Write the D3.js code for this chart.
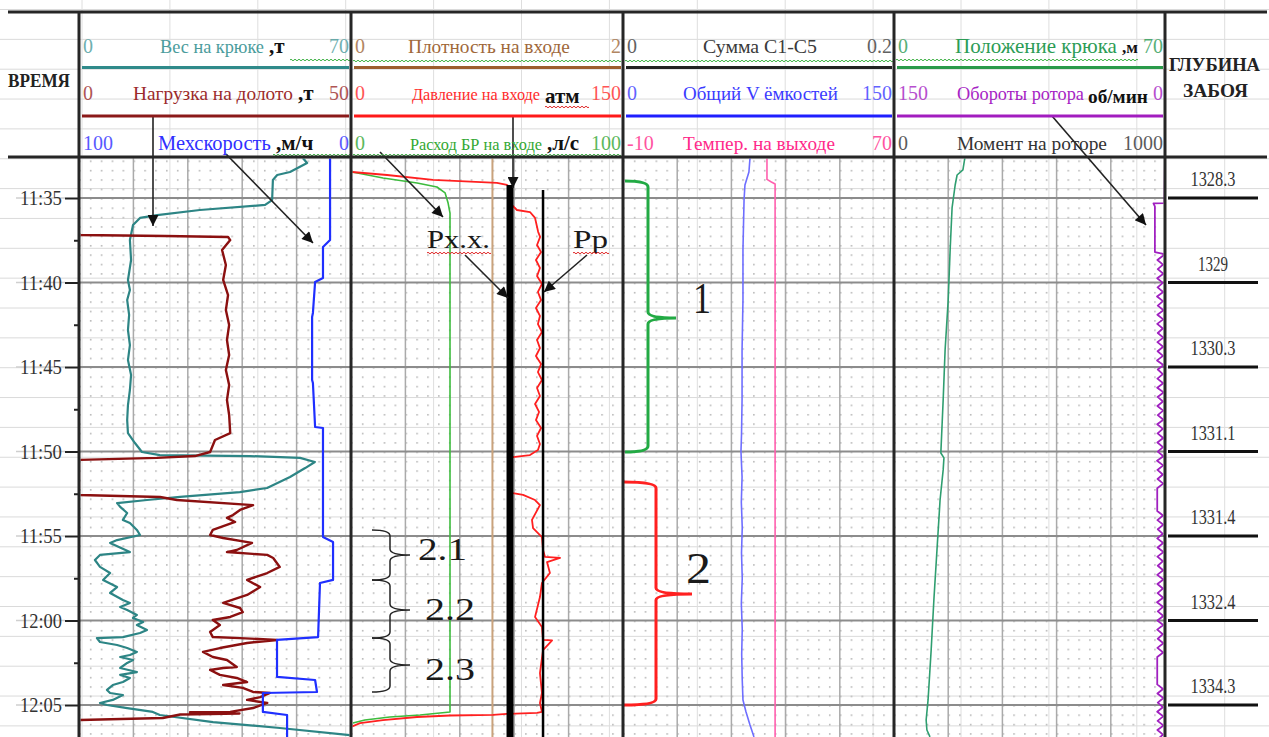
<!DOCTYPE html>
<html>
<head>
<meta charset="utf-8">
<script src="https://cdn.jsdelivr.net/npm/d3@7"></script>
<style>
  body { margin: 0; background: #fff; }
  svg { display: block; }
  text { font-family: "Liberation Serif", "Times New Roman", serif; }
</style>
</head>
<body>
<div id="chart"></div>
<script>
// время в минутах после 11:00, значения в единицах своей шкалы
const timeLabels = ["11:35", "11:40", "11:45", "11:50", "11:55", "12:00", "12:05"];
const depthLabels = ["1328.3", "1329", "1330.3", "1331.1", "1331.4", "1332.4", "1334.3"];

const curveNames = [
  ["Вес на крюке", "Нагрузка на долото", "Мехскорость"],
  ["Плотность на входе", "Давление на входе", "Расход БР на входе"],
  ["Сумма С1-С5", "Общий V ёмкостей", "Темпер. на выходе"],
  ["Положение крюка", "Обороты ротора", "Момент на роторе"]
];
const curveUnits = [[",т", ",т", ",м/ч"], ["", "атм", ",л/с"], ["", "", ""], [",м", "об/мин", ""]];
const curveRanges = [
  [[0, 70], [0, 50], [100, 0]],
  [[0, 2], [0, 150], [0, 100]],
  [[0, 0.2], [0, 150], [-10, 70]],
  [[0, 70], [150, 0], [0, 1000]]
];

const hookWeight = [[32.63,57.6],[32.93,58.7],[33.46,54.3],[33.64,51.0],[33.93,49.9],[35.12,49.7],[35.41,47.9],[35.71,31.1],[36.01,20.1],[36.18,15.7],[36.6,13.9],[37.49,13.1],[38.67,13.4],[39.85,12.6],[40.44,13.1],[41.04,12.4],[41.92,12.9],[42.81,12.6],[43.7,13.1],[44.59,12.6],[45.47,13.4],[46.36,13.1],[47.25,12.6],[48.14,12.4],[48.91,12.6],[49.5,14.4],[50.03,16.2],[50.21,20.8],[50.27,44.0],[50.38,56.9],[50.62,60.7],[50.98,58.2],[51.51,54.3],[52.16,48.4],[52.4,41.4],[52.69,26.0],[52.87,17.5],[53.05,9.8],[53.28,10.6],[53.64,12.4],[54.05,11.3],[54.23,13.1],[54.64,14.9],[54.94,15.7],[55.24,9.8],[55.41,8.0],[55.95,13.1],[56.12,5.4],[56.42,4.1],[56.83,5.4],[57.19,8.0],[57.6,6.2],[58.02,9.8],[58.37,8.0],[58.79,11.3],[58.96,13.1],[59.2,10.6],[59.38,12.4],[59.67,14.9],[59.85,13.9],[60.09,16.5],[60.27,14.9],[60.56,17.5],[60.74,15.7],[60.98,11.3],[61.04,4.6],[61.27,5.4],[61.45,9.8],[61.63,12.4],[61.86,14.9],[62.04,13.1],[62.16,10.6],[62.34,13.9],[62.51,12.4],[62.81,10.6],[63.05,14.9],[63.22,10.6],[63.4,13.1],[63.64,11.3],[63.82,8.7],[64.11,7.2],[64.29,8.0],[64.41,11.3],[64.7,8.7],[64.88,5.4],[65.0,7.2],[65.18,12.4],[65.41,19.0],[65.59,20.8],[66.01,34.5],[66.36,51.7],[66.78,69.7],[66.9,72]];

const bitLoad = [[37.1,0],[37.19,0.2],[37.25,15.8],[37.31,27.4],[37.49,27.8],[38.08,26.3],[38.96,27.0],[39.85,26.5],[40.74,27.4],[41.63,27.0],[42.51,27.6],[43.4,27.2],[44.29,27.6],[45.18,27.0],[46.07,27.6],[46.95,27.2],[47.84,27.6],[48.91,27.8],[49.32,25.0],[50.03,24.1],[50.27,21.3],[50.38,14.3],[50.5,0],[52.57,0],[52.69,14.9],[52.87,18.0],[53.17,32.0],[53.46,29.6],[53.76,28.3],[53.93,27.2],[54.17,28.7],[54.64,24.6],[54.94,24.1],[55.12,26.5],[55.41,31.8],[55.83,29.0],[55.95,27.2],[56.12,34.6],[56.3,35.7],[56.83,36.9],[57.19,34.6],[57.6,30.9],[58.02,33.3],[58.49,30.9],[58.96,26.5],[59.26,29.6],[59.5,30.1],[59.79,27.8],[59.97,24.6],[60.27,25.9],[60.68,24.1],[60.98,24.6],[61.04,29.6],[61.15,36.4],[61.33,30.9],[61.63,25.9],[61.86,22.8],[62.16,24.6],[62.34,27.2],[62.75,29.0],[62.81,26.5],[62.93,24.1],[63.22,25.9],[63.4,29.0],[63.64,30.9],[63.82,26.5],[63.99,30.1],[64.23,32.0],[64.29,35.1],[64.53,33.3],[64.7,30.9],[64.88,34.6],[65.18,32.0],[65.41,27.8],[65.43,20.4],[65.5,29.5],[65.56,18.6],[65.77,15.4],[65.89,0],[66.9,0]];

const rop = [[32.6,7.7],[37.49,7.7],[37.9,10.3],[39.73,10.3],[39.97,13.2],[41.8,14.0],[42.04,14.3],[45.77,14.3],[45.95,14.0],[48.55,13.2],[48.61,10.3],[55.06,10.3],[55.36,6.6],[57.6,6.6],[57.78,11.4],[60.98,12.1],[61.15,27.2],[63.34,27.2],[63.52,13.2],[64.23,12.5],[64.29,32.4],[65.41,32.4],[65.59,23.5],[66.9,23.5]];

const density = [[32.6,1.04],[66.9,1.04]];

const pressure = [[33.46,0.3],[33.64,19.9],[33.93,45.2],[34.11,80.5],[34.23,86.0],[34.35,87.7],[35.3,87.7],[35.71,91.5],[35.83,98.7],[36.18,101.5],[37.0,103.2],[37.3,104.3],[37.78,102.6],[38.2,104.8],[38.67,102.0],[39.14,104.2],[39.62,102.6],[40.09,105.3],[40.56,103.1],[41.04,104.8],[41.51,102.0],[41.98,104.2],[42.46,103.1],[42.93,105.3],[43.4,102.6],[43.88,104.2],[44.35,102.0],[44.82,104.8],[45.3,103.1],[45.77,105.3],[46.24,102.6],[46.72,104.2],[47.19,101.5],[47.66,103.7],[48.14,102.0],[48.61,104.8],[49.08,102.6],[49.56,104.2],[49.91,103.1],[50.21,98.7],[50.33,89.3],[50.4,87.7],[52.4,87.7],[52.46,89.3],[52.57,94.9],[52.87,101.5],[53.17,104.2],[54.05,99.8],[54.53,100.4],[55.06,105.3],[55.83,105.9],[56.24,107.0],[56.3,115.3],[56.54,108.1],[57.19,109.7],[57.78,105.3],[58.61,104.2],[59.79,101.5],[60.38,105.3],[61.15,105.9],[61.18,110.9],[61.75,105.9],[63.11,104.2],[64.29,105.3],[64.88,104.2],[65.41,105.3],[65.47,102.6],[65.53,86.0],[65.59,78.3],[65.62,54.6],[65.71,36.4],[65.89,17.6],[66.07,5.0],[66.3,0]];

const flowIn = [[33.46,0.4],[33.82,11.8],[34.11,24.3],[34.35,31.6],[34.7,34.6],[35.3,35.7],[35.89,36.4],[65.41,36.4],[65.47,32.7],[65.59,25.4],[65.71,14.3],[65.89,5.1],[66.07,0.7]];

const pitVolume = [[32.63,70.3],[33.46,69.7],[34.23,67.5],[35.12,67.0],[38.08,66.4],[41.04,66.4],[43.99,65.9],[46.95,65.9],[49.0,65.6],[50.0,65.3],[51.5,65.9],[53.0,65.5],[54.5,66.0],[56.0,65.6],[57.5,66.0],[59.0,65.5],[60.5,66.0],[62.0,65.7],[63.5,66.0],[64.7,66.4],[65.41,68.1],[66.18,70.3],[66.89,72.5]];

const tempOut = [[32.63,32.5],[33.9,32.5],[34.05,33.8],[34.17,34.9],[66.9,34.9]];

const hookPos = [[32.63,18.3],[33.34,17.8],[33.64,16.3],[34.23,15.8],[35.59,15.0],[38.08,14.5],[41.04,14.0],[43.99,13.2],[46.95,12.7],[50.09,12.1],[50.38,12.9],[51.09,12.7],[52.87,11.9],[55.83,11.1],[58.79,10.3],[61.75,9.6],[64.7,8.8],[65.89,8.3],[66.48,8.5],[66.89,9.3]];

const rotorHead = [[32.6,0],[35.3,0.5],[35.32,6.4],[35.5,5.6],[38.2,5.6],[38.3,1.0]];
const rotorStart = 38.4, rotorStep = 0.27;
const rotorRpm = [1.0,4.2,1.1,4.0,0.9,4.3,1.2,4.1,1.0,4.4,
  1.1,4.0,0.8,4.2,1.0,4.3,1.2,4.0,0.9,4.2,
  1.0,4.1,1.1,4.4,0.9,4.0,1.2,4.2,1.0,4.3,
  0.8,4.1,1.1,4.2,1.0,4.0,0.9,4.3,1.2,4.1,
  1.0,4.2,1.1,4.0,0.9,4.4,1.0,4.2,1.2,4.1,
  1.0,4.3,4.3,4.3,4.3,4.3,4.3,
  1.1,4.2,0.9,4.0,1.2,4.3,1.0,4.1,0.8,4.2,1.1,
  4.0,1.0,4.3,0.9,4.2,1.2,4.1,1.0,4.4,1.1,
  4.0,0.9,4.2,1.0,4.3,1.2,4.0,0.9,4.2,1.0,
  4.3,4.3,4.3,4.3,4.3,4.3,4.3,
  1.1,4.2,0.9,4.0,1.2,4.3,1.0,4.1,0.8,4.2,1.1,4.0];

const pIdle = 87.7;   // Рх.х., атм
const pWork = 105.9;  // Рр, атм

// ---------------------------------------------------------------------
const W = 1269, H = 737;
const edges = [79, 351, 623, 894, 1165];
const topY = 12, headBottom = 157;
const rowY = [53, 100, 150];
const scaleLineY = [67.5, 116];

const textColors = [["#4b9c9c", "#9c2b2b", "#3030ff"], ["#a0683a", "#ff2b2b", "#33a833"],
                    ["#3a3a3a", "#3b3bff", "#ff2a8a"], ["#2c9c55", "#a623c4", "#333"]];
const lineColors = [["#2f8a8a", "#8b1a1a"], ["#9c5e2e", "#ff1a1a"], ["#222", "#1f1fff"], ["#2a9a4a", "#a21cbf"]];
const labelX = [[160, 133, 158], [408, 412, 410], [703, 683, 683], [955, 957, 957]];
const labelW = [[104, 160, 113], [162, 128, 132], [114, 155, 152], [162, 127, 150]];
const unitX = [[269, 298, 276], [0, 545, 547], [0, 0, 0], [1122, 1088, 0]];
const unitW = [[18, 19, 46], [0, 44, 36], [0, 0, 0], [16, 60, 0]];

const parseHM = d3.timeParse("%H:%M");
const base = parseHM("11:00");
const at = m => new Date(base.getTime() + m * 60000);
const majorTimes = timeLabels.map(parseHM);
const y = d3.scaleTime().domain([majorTimes[0], majorTimes[majorTimes.length - 1]]).range([198, 705]);
const xs = (track, row) => d3.scaleLinear().domain(curveRanges[track][row]).range([edges[track], edges[track + 1]]);

const svg = d3.select('#chart').append('svg').attr('width', W).attr('height', H);
const defs = svg.append('defs');

function txt(g, x, yy, s, o = {}) {
  const size = o.size || 20;
  const t = g.append('text').attr('x', x).attr('y', yy).text(s)
    .attr('font-size', size)
    .attr('fill', o.fill || '#222')
    .attr('text-anchor', o.anchor || 'start');
  if (o.bold) t.attr('font-weight', 'bold');
  if (o.fit) {
    // уменьшаем шрифт, чтобы текст уложился в ширину
    const nat = t.node().getComputedTextLength();
    if (nat > o.fit) t.attr('font-size', (size * o.fit / nat).toFixed(2));
  }
  if (o.len) t.attr('textLength', o.len).attr('lengthAdjust', 'spacingAndGlyphs');
  if (o.opacity) t.attr('opacity', o.opacity);
  return t;
}

function wavy(g, x0, x1, yy, color) {
  let d = `M${x0},${yy}`, s = 1;
  for (let x = x0; x < x1; x += 2) {
    d += ` Q${x + 1},${yy - 1.6 * s} ${x + 2},${yy}`;
    s = -s;
  }
  g.append('path').attr('d', d).attr('fill', 'none').attr('stroke', color).attr('stroke-width', 1);
}

// фоновая сетка листа
const bg = svg.append('g');
for (let k = 0; k < 25; k++) {
  bg.append('line').attr('x1', 0).attr('x2', W).attr('y1', 9.5 + k * 29.85).attr('y2', 9.5 + k * 29.85)
    .attr('stroke', '#dadada').attr('stroke-width', 1);
}
for (let k = 0; k < 14; k++) {
  bg.append('line').attr('x1', 82 + k * 87.9).attr('x2', 82 + k * 87.9).attr('y1', 0).attr('y2', H)
    .attr('stroke', '#dedede').attr('stroke-width', 1);
}

// точки и сетка треков
const fiveMin = y(majorTimes[1]) - y(majorTimes[0]);
edges.slice(0, 4).forEach((x0, i) => {
  const tw = edges[i + 1] - x0;
  const p = defs.append('pattern').attr('id', 'dots' + i).attr('patternUnits', 'userSpaceOnUse')
    .attr('x', x0).attr('y', y(majorTimes[0]))
    .attr('width', tw / 25).attr('height', fiveMin / 9);
  p.append('rect').attr('x', 0).attr('y', 0).attr('width', 1.6).attr('height', 1.6).attr('fill', '#b8b8b8');
  svg.append('rect').attr('x', x0).attr('y', headBottom).attr('width', tw).attr('height', H - headBottom)
    .attr('fill', `url(#dots${i})`);
  for (let k = 1; k < 5; k++) {
    svg.append('line').attr('x1', x0 + k * tw / 5).attr('x2', x0 + k * tw / 5)
      .attr('y1', headBottom).attr('y2', H).attr('stroke', '#aaa').attr('stroke-width', 1.5);
  }
  defs.append('clipPath').attr('id', 'clip' + i).append('rect')
    .attr('x', x0 + 1.5).attr('y', headBottom + 1.5).attr('width', tw - 3).attr('height', H - headBottom);
});

svg.append('g').selectAll('line').data(majorTimes).join('line')
  .attr('x1', edges[0]).attr('x2', edges[4]).attr('y1', d => y(d)).attr('y2', d => y(d))
  .attr('stroke', '#8c8c8c').attr('stroke-width', 2);
svg.append('g').selectAll('line').data(majorTimes).join('line')
  .attr('x1', 16).attr('x2', 65).attr('y1', d => y(d)).attr('y2', d => y(d))
  .attr('stroke', '#cfcfcf').attr('stroke-width', 1.5);

// кривые
const line = xsc => d3.line().x(d => xsc(d[1])).y(d => y(at(d[0])));
const rotorData = rotorHead.concat(rotorRpm.map((v, i) => [rotorStart + i * rotorStep, v]));
const curves = [
  { data: density, t: 1, r: 0, color: '#c9a27c', w: 2 },
  { data: flowIn, t: 1, r: 2, color: '#3dbb3d', w: 1.6 },
  { data: pressure, t: 1, r: 1, color: '#ff2020', w: 1.8 },
  { data: hookWeight, t: 0, r: 0, color: '#2d8585', w: 2.2 },
  { data: bitLoad, t: 0, r: 1, color: '#8b1010', w: 2.4 },
  { data: rop, t: 0, r: 2, color: '#1f2fff', w: 2.2 },
  { data: pitVolume, t: 2, r: 1, color: '#6e6eff', w: 1.6 },
  { data: tempOut, t: 2, r: 2, color: '#ff5fae', w: 1.6 },
  { data: hookPos, t: 3, r: 0, color: '#2f9e70', w: 1.6 },
  { data: rotorData, t: 3, r: 1, color: '#a020c0', w: 1.8 }
];
curves.forEach(c => {
  svg.append('path').datum(c.data).attr('clip-path', `url(#clip${c.t})`)
    .attr('d', line(xs(c.t, c.r))).attr('fill', 'none')
    .attr('stroke', c.color).attr('stroke-width', c.w).attr('stroke-linejoin', 'round');
});

// уровни давления Рх.х. и Рр
const xp = xs(1, 1);
svg.append('line').attr('x1', xp(pIdle)).attr('x2', xp(pIdle)).attr('y1', y(at(34.23))).attr('y2', H)
  .attr('stroke', '#000').attr('stroke-width', 7);
svg.append('line').attr('x1', xp(pWork)).attr('x2', xp(pWork)).attr('y1', y(at(34.53))).attr('y2', H)
  .attr('stroke', '#000').attr('stroke-width', 2.5);

// фигурные скобки
function brace(xl, xm, xt, t0, tm, t1, color, w) {
  const a = y(at(t0)), m = y(at(tm)), b = y(at(t1)), r = 6;
  const d = `M${xl},${a} Q${xm},${a} ${xm},${a + r} L${xm},${m - r} Q${xm},${m} ${xt},${m}` +
            ` Q${xm},${m} ${xm},${m + r} L${xm},${b - r} Q${xm},${b} ${xl},${b}`;
  svg.append('path').attr('d', d).attr('fill', 'none').attr('stroke', color).attr('stroke-width', w);
}
brace(625, 648, 676, 33.99, 42.1, 50.03, '#22aa44', 3);
brace(624, 656, 692, 51.8, 58.43, 65.0, '#ff2020', 3);
brace(372, 390, 410, 54.64, 56.12, 57.6, '#222', 1.5);
brace(372, 390, 410, 57.6, 59.38, 61.04, '#222', 1.5);
brace(372, 390, 410, 61.04, 62.63, 64.23, '#222', 1.5);

const ann = svg.append('g');
txt(ann, 693, y(at(41.8)), '1', { size: 44, len: 18, fill: '#1a1a1a' });
txt(ann, 686, y(at(57.78)), '2', { size: 44, len: 25, fill: '#1a1a1a' });
txt(ann, 418, y(at(56.42)), '2.1', { size: 32, len: 49, fill: '#1a1a1a' });
txt(ann, 425, y(at(59.97)), '2.2', { size: 32, len: 50, fill: '#1a1a1a' });
txt(ann, 425, y(at(63.52)), '2.3', { size: 32, len: 50, fill: '#1a1a1a' });
txt(ann, 427, y(at(37.96)), 'Рх.х.', { size: 25, len: 63, fill: '#1a1a1a' });
txt(ann, 573, y(at(37.96)), 'Рр', { size: 25, len: 35, fill: '#1a1a1a' });
wavy(ann, 427, 490, y(at(37.96)) + 5, '#e02828');
wavy(ann, 573, 608, y(at(37.96)) + 5, '#e02828');

// стрелки
defs.append('marker').attr('id', 'arrow').attr('viewBox', '0 0 10 10').attr('refX', 10).attr('refY', 5)
  .attr('markerWidth', 14).attr('markerHeight', 11).attr('markerUnits', 'userSpaceOnUse').attr('orient', 'auto')
  .append('path').attr('d', 'M0,0 L10,5 L0,10 z').attr('fill', '#111');
[[153, 116, 153, 226], [226, 154, 313, 243], [380, 152, 443, 217], [513, 116, 513, 188],
 [465, 255, 508, 298], [587, 255, 544, 292], [1052, 116, 1146, 225]].forEach(a => {
  ann.append('line').attr('x1', a[0]).attr('y1', a[1]).attr('x2', a[2]).attr('y2', a[3])
    .attr('stroke', '#222').attr('stroke-width', 1.6).attr('marker-end', 'url(#arrow)');
});

// ось времени
const axis = svg.append('g').attr('transform', `translate(${edges[0]},0)`)
  .call(d3.axisLeft(y).tickValues(majorTimes).tickSize(14).tickPadding(3).tickFormat(d3.timeFormat('%H:%M')));
axis.select('.domain').remove();
axis.selectAll('line').attr('stroke', '#222').attr('stroke-width', 2);
axis.selectAll('text').attr('font-size', 21).attr('fill', '#333')
  .attr('font-family', '"Liberation Serif", serif')
  .attr('textLength', 42).attr('lengthAdjust', 'spacingAndGlyphs');
const minorTimes = d3.range(0, 6).map(i => at(37.5 + i * 5));
const minor = svg.append('g').attr('transform', `translate(${edges[0]},0)`)
  .call(d3.axisLeft(y).tickValues(minorTimes).tickSize(5).tickFormat(''));
minor.select('.domain').remove();
minor.selectAll('line').attr('stroke', '#222').attr('stroke-width', 2);

// колонка глубины
const dep = svg.append('g');
dep.selectAll('line').data(majorTimes).join('line')
  .attr('x1', 1168).attr('x2', 1258).attr('y1', d => y(d)).attr('y2', d => y(d))
  .attr('stroke', '#111').attr('stroke-width', 3);
depthLabels.forEach((s, i) => {
  txt(dep, 1213, y(majorTimes[i]) - 12, s, { size: 20, anchor: 'middle', fill: '#333', len: s.length * 7.5 });
});

// шапка
const head = svg.append('g');
curveNames.forEach((rows, t) => {
  const x0 = edges[t], x1 = edges[t + 1];
  rows.forEach((name, r) => {
    const col = textColors[t][r];
    const rg = curveRanges[t][r];
    txt(head, x0 + 4, rowY[r], String(rg[0]), { size: 20, fill: col, opacity: 0.8 });
    txt(head, x1 - 2, rowY[r], String(rg[1]), { size: 20, fill: col, anchor: 'end', opacity: 0.8 });
    txt(head, labelX[t][r], rowY[r], name, { size: 22, fill: col, fit: labelW[t][r] });
  });
  scaleLineY.forEach((ly, r) => {
    head.append('line').attr('x1', x0 + 3).attr('x2', x1 - 2).attr('y1', ly).attr('y2', ly)
      .attr('stroke', lineColors[t][r]).attr('stroke-width', 3);
  });
});
// волнистые подчёркивания как в оригинале
wavy(head, 290, 350, 60, '#3cb043');
wavy(head, 273, 350, 155, '#3cb043');
wavy(head, 353, 621, 61, '#3cb043');
wavy(head, 353, 621, 155, '#3cb043');
wavy(head, 625, 892, 61, '#3cb043');
wavy(head, 896, 1138, 60, '#3cb043');
wavy(head, 545, 589, 107, '#e02828');
curveUnits.forEach((rows, t) => rows.forEach((u, r) => {
  if (!u) return;
  const dy = (u === 'атм' || u === 'об/мин') ? 3 : 0;
  txt(head, unitX[t][r], rowY[r] + dy, u, { size: 21, bold: true, fill: '#111', fit: unitW[t][r] });
}));

txt(head, 8, 87, 'ВРЕМЯ', { size: 19, bold: true, len: 62, fill: '#222' });
txt(head, 1169, 71, 'ГЛУБИНА', { size: 19, bold: true, len: 91, fill: '#222' });
txt(head, 1183, 97, 'ЗАБОЯ', { size: 19, bold: true, len: 65, fill: '#222' });

// рамки
const fr = svg.append('g').attr('stroke', '#262626');
fr.append('line').attr('x1', 8).attr('x2', 1267).attr('y1', topY).attr('y2', topY).attr('stroke-width', 3);
fr.append('line').attr('x1', 8).attr('x2', 1267).attr('y1', headBottom).attr('y2', headBottom).attr('stroke-width', 3);
edges.forEach(x => {
  fr.append('line').attr('x1', x).attr('x2', x).attr('y1', topY).attr('y2', H).attr('stroke-width', 3);
});
</script>
</body>
</html>
